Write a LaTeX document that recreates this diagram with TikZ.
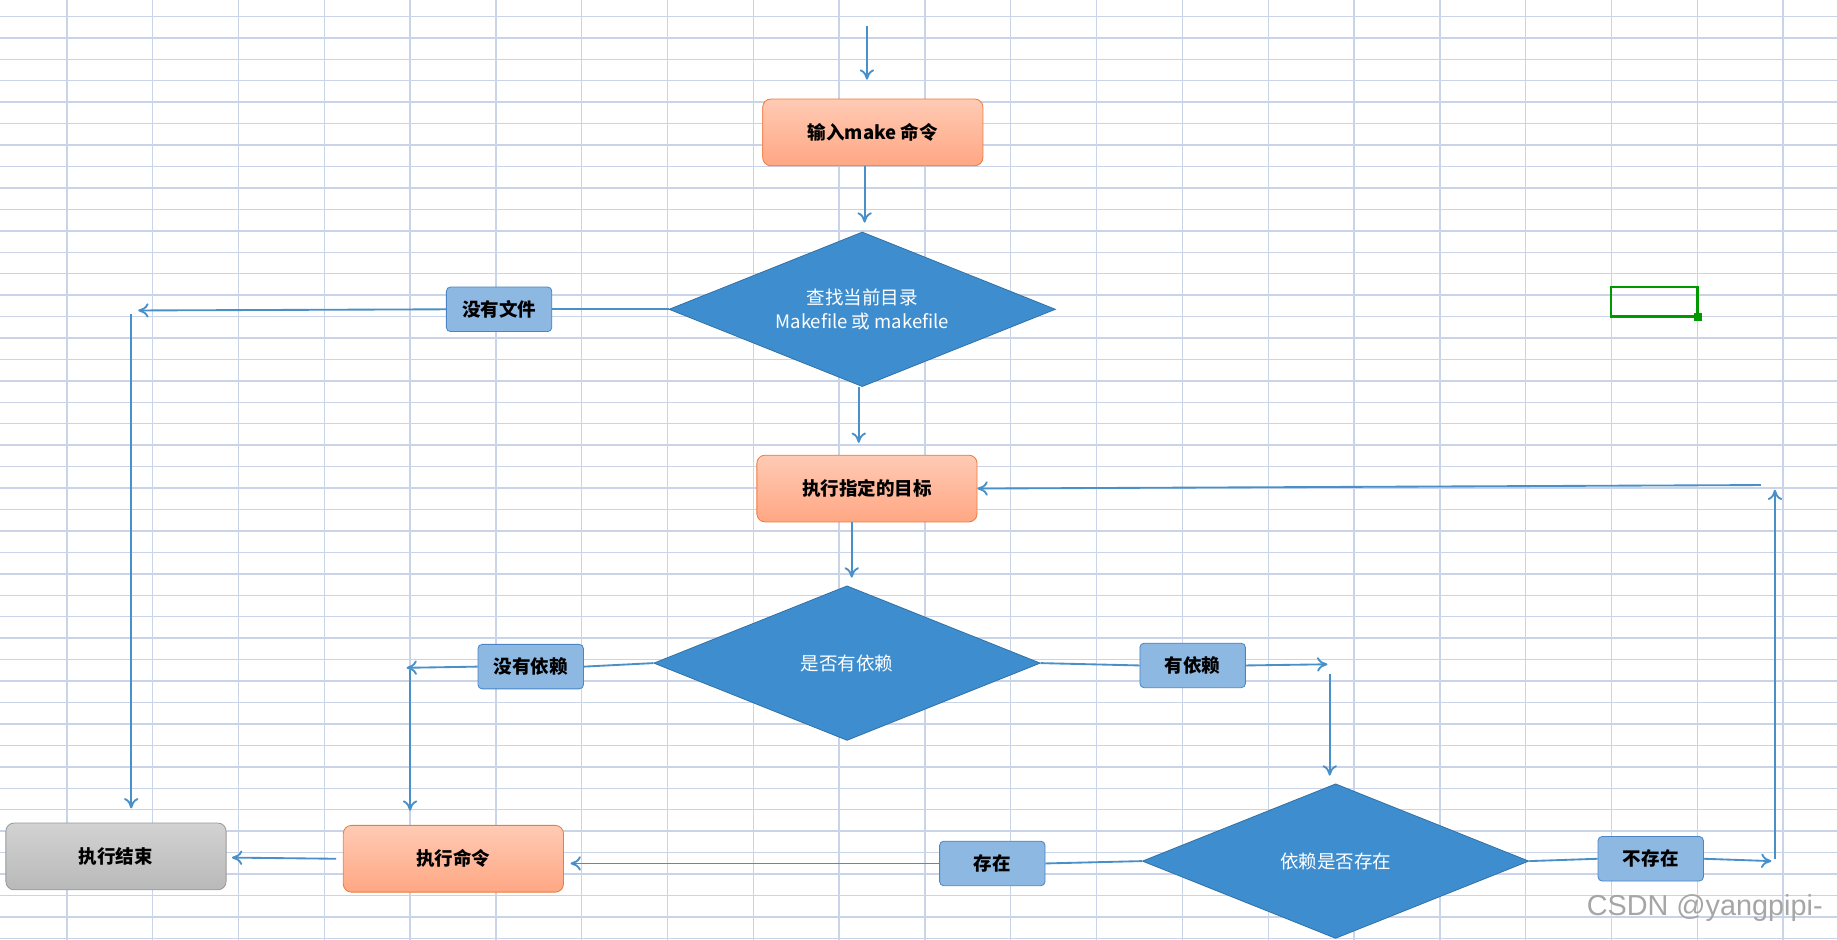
\documentclass[tikz,border=0pt]{standalone}
\usepackage{fontspec}
\setmainfont{Liberation Sans}
\newfontfamily\cjk{Noto Sans CJK SC}
\usetikzlibrary{shapes.geometric,arrows.meta}
\definecolor{gridc}{HTML}{C9D4E8}
\definecolor{lnc}{HTML}{4A90C8}
\definecolor{dia}{HTML}{3E8ECF}
\definecolor{orf}{HTML}{FFA783}
\definecolor{orb}{HTML}{F07A3C}
\definecolor{lbf}{HTML}{8DB8E2}
\definecolor{lbb}{HTML}{4A86C5}
\begin{document}
\begin{tikzpicture}[x=0.02cm,y=-0.02cm,
  box/.style={rectangle,rounded corners=4pt,minimum width=3.76cm,minimum height=1.14cm,draw=orb,top color=orf!60,bottom color=orf,font=\cjk\bfseries\fontsize{9}{11}\selectfont,text=black},
  endbox/.style={box,draw=gray!80,top color=gray!35,bottom color=gray!55},
  dec/.style={diamond,aspect=2.5,fill=dia,draw=dia!80!black,text=white,inner sep=0pt,minimum width=6.6cm,minimum height=2.64cm,font=\cjk\fontsize{9}{12}\selectfont,align=center},
  lab/.style={rectangle,rounded corners=2pt,draw=lbb,fill=lbf,minimum width=1.8cm,minimum height=0.76cm,font=\cjk\bfseries\fontsize{9}{11}\selectfont},
  ln/.style={draw=lnc,line width=0.9pt},
  ar/.style={ln,-{To[length=5pt,width=7pt]}}]
\useasboundingbox (0,0) rectangle (1568,802);
\fill[white] (0,0) rectangle (1568,802);
\foreach \k in {0,...,20} \draw[gridc,line width=0.7pt] ({57+73.25*\k},0) -- ({57+73.25*\k},802);
\foreach \k in {0,...,43} \draw[gridc,line width=0.7pt] (0,{14+18.3*\k}) -- (1568,{14+18.3*\k});
\draw[green!60!black,line width=1.3pt] (1375,245) rectangle (1449,270);
\fill[green!60!black] (1446,267) rectangle (1453,274);
% nodes
\node[box] (make) at (745,113) {输入{\bfseries make} 命令};
\node[dec] (d1) at (736,264) {查找当前目录\\Makefile 或 makefile};
\node[box] (tgt) at (740,417) {执行指定的目标};
\node[dec] (d2) at (723,566) {是否有依赖};
\node[dec] (d3) at (1140,735) {依赖是否存在};
\node[box] (cmd) at (387,733) {执行命令};
\node[endbox] (end) at (99,731) {执行结束};
\node[lab] (l1) at (426,264) {没有文件};
\node[lab] (l2) at (453,569) {没有依赖};
\node[lab] (l3) at (1018,568) {有依赖};
\node[lab] (l4) at (1409,733) {不存在};
\node[lab] (l5) at (847,737) {存在};
% coordinates
\coordinate (s0) at (740,22); \coordinate (s1) at (740,68);
\coordinate (a1) at (738,190);
\coordinate (a2) at (733,378);
\coordinate (a3) at (727,493);
\coordinate (h1) at (118,265); \coordinate (v1a) at (112,268); \coordinate (v1b) at (112,690);
\coordinate (h2) at (347,570); \coordinate (v2a) at (350,572); \coordinate (v2b) at (350,692);
\coordinate (h3) at (1133,567); \coordinate (v3a) at (1135,575); \coordinate (v3b) at (1135,662);
\coordinate (h4) at (1512,735); \coordinate (v4a) at (1515,733); \coordinate (v4b) at (1515,418);
\coordinate (t4) at (1503,414);
\coordinate (e5) at (487,737);
\coordinate (e6) at (198,732);
% connectors
\draw[ar] (s0) -- (s1);
\draw[ar] (make.south -| a1) -- (a1);
\draw[ar] (d1.south -| a2) -- (a2);
\draw[ar] (tgt.south -| a3) -- (a3);
\draw[ln] (d1.west) -- (l1.east); \draw[ar] (l1.west) -- (h1);
\draw[ar] (v1a) -- (v1b);
\draw[ln] (d2.west) -- (l2.east); \draw[ar] (l2.west) -- (h2);
\draw[ar] (v2a) -- (v2b);
\draw[ln] (d2.east) -- (l3.west); \draw[ar] (l3.east) -- (h3);
\draw[ar] (v3a) -- (v3b);
\draw[ln] (d3.east) -- (l4.west); \draw[ar] (l4.east) -- (h4);
\draw[ar] (v4a) -- (v4b);
\draw[ar] (t4) -- (tgt.east);
\draw[ln] (d3.west) -- (l5.east); \draw[ar] (l5.west) -- (e5);
\draw[ar] (cmd.west -| 287,0) -- (e6);
\node[text=gray!70,font=\fontsize{14}{16}\selectfont,anchor=east] (wm) at (1562,775) {CSDN @yangpipi-};
\end{tikzpicture}
\end{document}
